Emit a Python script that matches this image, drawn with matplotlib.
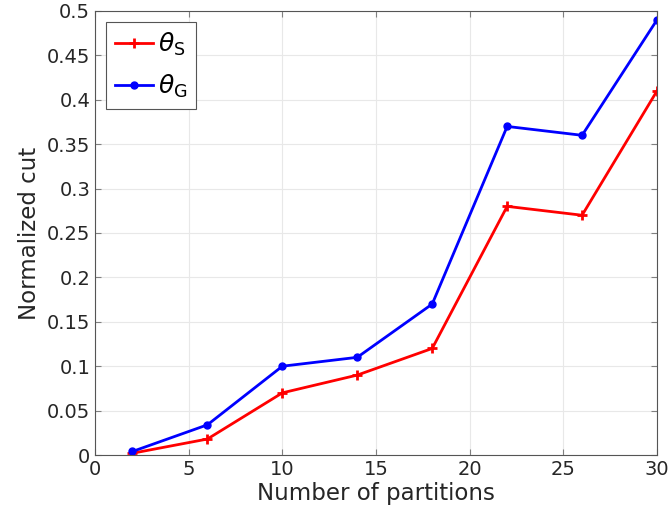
import matplotlib
matplotlib.use("Agg")
import matplotlib.pyplot as plt

partitions = [2, 6, 10, 14, 18, 22, 26, 30]
theta_s = [0.002, 0.018, 0.07, 0.09, 0.12, 0.28, 0.27, 0.41]
theta_g = [0.004, 0.034, 0.10, 0.11, 0.17, 0.37, 0.36, 0.49]
xticks = [0, 5, 10, 15, 20, 25, 30]
yticks = [0, 0.05, 0.1, 0.15, 0.2, 0.25, 0.3, 0.35, 0.4, 0.45, 0.5]
yticklabels = ["0", "0.05", "0.1", "0.15", "0.2", "0.25", "0.3", "0.35", "0.4", "0.45", "0.5"]

plt.rcParams['mathtext.fontset'] = 'dejavusans'
fig = plt.figure(figsize=(6.72, 5.18), dpi=100)
ax = fig.add_axes([0.1414, 0.1216, 0.8363, 0.8572])

ax.plot(partitions, theta_s, color='#ff0000', lw=2, marker='+', ms=7, mew=2, label=r'$\theta_{\mathsf{S}}$')
ax.plot(partitions, theta_g, color='#0000ff', lw=2, marker='o', ms=5, label=r'$\theta_{\mathsf{G}}$')

ax.set_xlim(0, 30)
ax.set_ylim(0, 0.5)
ax.set_xticks(xticks)
ax.set_yticks(yticks)
ax.set_yticklabels(yticklabels)
ax.tick_params(labelsize=14, direction='in', length=4, color='#808080', labelcolor='#262626',
               top=True, right=True, width=0.8)
ax.grid(True, color='#e8e8e8', lw=0.8)
ax.set_axisbelow(True)
for s in ax.spines.values():
    s.set_color('#555555')
    s.set_linewidth(0.8)
ax.set_xlabel('Number of partitions', fontsize=16.5, color='#262626', labelpad=2)
ax.set_ylabel('Normalized cut', fontsize=16.5, color='#262626', labelpad=4)
leg = ax.legend(loc='upper left', fontsize=18, fancybox=False, edgecolor='#555555',
                handlelength=1.5, handletextpad=0.2, borderaxespad=0.45, labelspacing=0.6,
                borderpad=0.35, framealpha=1)
leg.get_frame().set_linewidth(0.8)
fig.savefig('out.png', dpi=100)
